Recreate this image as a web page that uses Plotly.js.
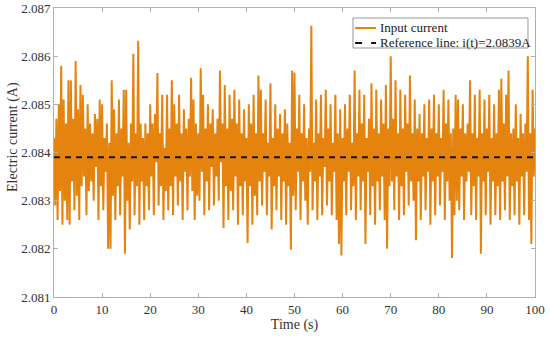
<!DOCTYPE html>
<html>
<head>
<meta charset="utf-8">
<script src="https://cdn.plot.ly/plotly-3.0.1.min.js"></script>
<style>html,body{margin:0;padding:0;background:#fff;}#chart{width:550px;height:337px;}</style>
</head>
<body>
<div id="chart"></div>
<script>
// Sampling step (s) of the measured current
const dt = 0.25;
// Input current samples (A), t = 0 .. 24.75 s
const current_0_25 = [
2.08430,2.08290,2.08470,2.08260, 2.08500,2.08320,2.08580,2.08250, 2.08510,2.08300,2.08460,2.08260,
2.08550,2.08250,2.08550,2.08340, 2.08470,2.08280,2.08590,2.08310, 2.08490,2.08260,2.08540,2.08330,
2.08520,2.08350,2.08450,2.08270, 2.08500,2.08320,2.08460,2.08340, 2.08440,2.08300,2.08480,2.08370,
2.08470,2.08260,2.08510,2.08330, 2.08500,2.08280,2.08430,2.08360, 2.08460,2.08200,2.08420,2.08200,
2.08550,2.08310,2.08490,2.08260, 2.08440,2.08330,2.08510,2.08270, 2.08450,2.08350,2.08530,2.08190,
2.08530,2.08300,2.08420,2.08240, 2.08460,2.08340,2.08605,2.08270, 2.08440,2.08330,2.08632,2.08250,
2.08460,2.08340,2.08430,2.08260, 2.08460,2.08330,2.08440,2.08280, 2.08500,2.08350,2.08460,2.08270,
2.08480,2.08380,2.08565,2.08290, 2.08440,2.08330,2.08520,2.08260, 2.08410,2.08320,2.08520,2.08280,
2.08450,2.08330,2.08550,2.08270
];
// t = 25 .. 49.75 s
const current_25_50 = [
2.08500,2.08350,2.08460,2.08290, 2.08520,2.08340,2.08440,2.08260, 2.08490,2.08360,2.08450,2.08280,
2.08470,2.08350,2.08555,2.08320, 2.08510,2.08260,2.08460,2.08310, 2.08440,2.08300,2.08575,2.08360,
2.08520,2.08270,2.08450,2.08340, 2.08500,2.08280,2.08460,2.08370, 2.08490,2.08290,2.08440,2.08350,
2.08470,2.08300,2.08570,2.08380, 2.08460,2.08243,2.08540,2.08330, 2.08450,2.08260,2.08520,2.08320,
2.08470,2.08280,2.08530,2.08350, 2.08460,2.08250,2.08510,2.08330, 2.08440,2.08270,2.08490,2.08340,
2.08430,2.08212,2.08500,2.08330, 2.08460,2.08250,2.08520,2.08310, 2.08440,2.08270,2.08560,2.08340,
2.08530,2.08290,2.08440,2.08360, 2.08510,2.08270,2.08420,2.08350, 2.08544,2.08240,2.08430,2.08330,
2.08500,2.08280,2.08450,2.08350, 2.08480,2.08260,2.08440,2.08340, 2.08490,2.08250,2.08460,2.08330,
2.08420,2.08198,2.08570,2.08310
];
// t = 50 .. 74.75 s
const current_50_75 = [
2.08566,2.08280,2.08450,2.08360, 2.08520,2.08260,2.08440,2.08340, 2.08500,2.08300,2.08430,2.08250,
2.08450,2.08360,2.08663,2.08280, 2.08420,2.08340,2.08510,2.08260, 2.08440,2.08350,2.08520,2.08270,
2.08430,2.08370,2.08530,2.08290, 2.08450,2.08340,2.08500,2.08270, 2.08420,2.08360,2.08520,2.08260,
2.08440,2.08210,2.08490,2.08186, 2.08430,2.08340,2.08500,2.08270, 2.08450,2.08360,2.08520,2.08280,
2.08420,2.08330,2.08570,2.08260, 2.08440,2.08350,2.08530,2.08280, 2.08460,2.08340,2.08520,2.08210,
2.08430,2.08360,2.08470,2.08270, 2.08544,2.08330,2.08450,2.08250, 2.08530,2.08340,2.08440,2.08280,
2.08510,2.08350,2.08460,2.08260, 2.08540,2.08200,2.08450,2.08330, 2.08600,2.08340,2.08470,2.08280,
2.08550,2.08350,2.08440,2.08260, 2.08530,2.08330,2.08450,2.08270, 2.08520,2.08360,2.08460,2.08290,
2.08560,2.08340,2.08440,2.08300
];
// t = 75 .. 100 s
const current_75_100 = [
2.08510,2.08218,2.08450,2.08340, 2.08480,2.08260,2.08440,2.08350, 2.08500,2.08280,2.08430,2.08360,
2.08510,2.08250,2.08450,2.08340, 2.08520,2.08270,2.08440,2.08350, 2.08500,2.08290,2.08430,2.08360,
2.08530,2.08260,2.08460,2.08340, 2.08510,2.08300,2.08440,2.08181, 2.08450,2.08270,2.08520,2.08300,
2.08510,2.08280,2.08450,2.08350, 2.08500,2.08260,2.08440,2.08340, 2.08460,2.08360,2.08550,2.08270,
2.08440,2.08330,2.08520,2.08260, 2.08430,2.08350,2.08530,2.08190, 2.08440,2.08340,2.08510,2.08270,
2.08450,2.08360,2.08520,2.08250, 2.08430,2.08340,2.08500,2.08270, 2.08440,2.08330,2.08530,2.08260,
2.08553,2.08340,2.08460,2.08280, 2.08520,2.08350,2.08570,2.08260, 2.08440,2.08330,2.08450,2.08270,
2.08500,2.08340,2.08430,2.08250, 2.08480,2.08350,2.08440,2.08270, 2.08460,2.08360,2.08600,2.08260,
2.08440,2.08210,2.08530,2.08350, 2.08450
];
const referenceValue = 2.0839;
const xRange = [0, 100];
const yRange = [2.081, 2.087];
const seriesName = 'Input current';
const refName = 'Reference line: i(t)=2.0839A';

const current = current_0_25.concat(current_25_50, current_50_75, current_75_100);
const time = current.map((_, i) => i * dt);

const font = 'Liberation Serif, Times New Roman, serif';
const orange = 'rgb(228,131,14)';
const traces = [
  {x: time, y: current, type: 'scatter', mode: 'lines', name: seriesName,
   line: {color: orange, width: 2}},
  {x: xRange, y: [referenceValue, referenceValue], type: 'scatter', mode: 'lines', name: refName,
   line: {color: '#111', width: 2, dash: '6px,5px'}}
];
const axisCommon = {
  showgrid: false, zeroline: false, showline: true, linecolor: '#b0b0b0', linewidth: 1,
  mirror: 'ticks', ticks: 'inside', ticklen: 4, tickcolor: '#b0b0b0',
  tickfont: {family: font, size: 13, color: '#333'}
};
// hand-drawn legend box (paper coordinates)
const lg = {x0: 0.6216, x1: 0.9854, y0: 0.8616, y1: 0.9654, sx0: 0.626, sx1: 0.6694, tx: 0.6736, r1: 0.9308, r2: 0.8789};
const layout = {
  width: 550, height: 337,
  margin: {l: 54, r: 15, t: 8, b: 40},
  paper_bgcolor: '#fff', plot_bgcolor: '#fff',
  showlegend: false,
  xaxis: Object.assign({}, axisCommon, {range: xRange, dtick: 10, tick0: 0,
    title: {text: 'Time (s)', font: {family: font, size: 14, color: '#333'}, standoff: 2}}),
  yaxis: Object.assign({}, axisCommon, {range: yRange, dtick: 0.001, tick0: 2.081, tickformat: '.3f'}),
  shapes: [
    {type: 'rect', xref: 'paper', yref: 'paper', x0: lg.x0, x1: lg.x1, y0: lg.y0, y1: lg.y1,
     line: {color: '#999', width: 1}, fillcolor: '#fff'},
    {type: 'line', xref: 'paper', yref: 'paper', x0: lg.sx0, x1: lg.sx1, y0: lg.r1, y1: lg.r1,
     line: {color: orange, width: 2}},
    {type: 'line', xref: 'paper', yref: 'paper', x0: lg.sx0, x1: lg.sx1, y0: lg.r2, y1: lg.r2,
     line: {color: '#111', width: 2, dash: '7px,9px'}}
  ],
  annotations: [
    {xref: 'paper', yref: 'paper', x: lg.tx, y: lg.r1, xanchor: 'left', yanchor: 'middle', showarrow: false,
     text: seriesName, font: {family: font, size: 13, color: '#222'}},
    {xref: 'paper', yref: 'paper', x: lg.tx, y: lg.r2, xanchor: 'left', yanchor: 'middle', showarrow: false,
     text: refName, font: {family: font, size: 13, color: '#222'}},
    {xref: 'paper', yref: 'paper', x: -0.0852, y: 0.5536, xanchor: 'center', yanchor: 'middle', showarrow: false,
     textangle: -90, text: 'Electric current (A)', font: {family: font, size: 14, color: '#333'}}
  ]
};
Plotly.newPlot('chart', traces, layout, {staticPlot: true, displayModeBar: false});
</script>
</body>
</html>
